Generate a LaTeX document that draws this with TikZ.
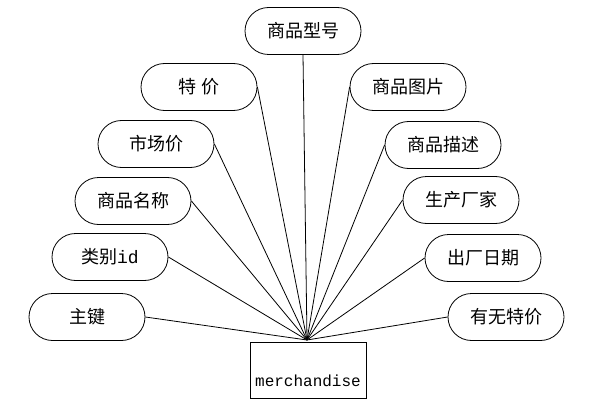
\documentclass[tikz,border=0pt]{standalone}
\usepackage{fontspec}
\setmainfont{Noto Sans CJK SC}
\setmonofont{Liberation Mono}
\usetikzlibrary{shapes.misc}

\begin{document}
\begin{tikzpicture}[x=0.75pt, y=-0.75pt, line width=0.6pt,
  font=\fontsize{13.5}{16}\selectfont,
  attr/.style={draw, rounded rectangle, minimum width=87pt, minimum height=35.25pt, inner sep=0pt},
  entity/.style={draw, rectangle, minimum width=87pt, minimum height=42pt, inner sep=0pt,
    font=\ttfamily\fontsize{12}{14}\selectfont, text height=28pt, text depth=3pt}]
  \useasboundingbox (0,0) rectangle (596,410);
  % entity
  \node[entity] (goods) at (308,370) {merchandise};
  \coordinate (hub) at (307,340);
  % attributes, left side
  \node[attr] (xinghao) at (303,31) {商品型号};
  \node[attr] (tejia) at (199,87) {特\ 价};
  \node[attr] (shichang) at (156,144) {市场价};
  \node[attr] (mingcheng) at (133,201) {商品名称};
  \node[attr] (leibie) at (110,257) {类别\texttt{id}};
  \node[attr] (zhujian) at (87,317) {主键};
  % attributes, right side
  \node[attr] (tupian) at (408,87) {商品图片};
  \node[attr] (miaoshu) at (443,145) {商品描述};
  \node[attr] (changjia) at (461,200) {生产厂家};
  \node[attr] (riqi) at (483,258) {出厂日期};
  \node[attr] (youwu) at (506,317) {有无特价};
  % links to the entity
  \draw (xinghao.south) -- (hub);
  \draw (tejia.east) -- (hub);
  \draw (shichang.east) -- (hub);
  \draw (mingcheng.east) -- (hub);
  \draw (leibie.east) -- (hub);
  \draw (zhujian.east) -- (hub);
  \draw (tupian.west) -- (hub);
  \draw (miaoshu.west) -- (hub);
  \draw (changjia.west) -- (hub);
  \draw (riqi.west) -- (hub);
  \draw (youwu.west) -- (hub);
\end{tikzpicture}
\end{document}
